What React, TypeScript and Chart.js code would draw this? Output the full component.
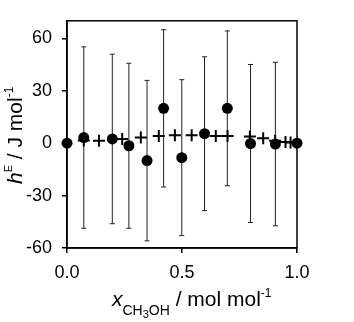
import { useEffect, useRef } from "react";
import { Chart, registerables } from "chart.js";

Chart.register(...registerables);

// measured data points (filled circles) with symmetric error bars
const circleX = [0, 0.073, 0.197, 0.269, 0.348, 0.42, 0.499, 0.598, 0.697, 0.798, 0.906, 1.0];
const circleY = [0, 3.2, 2.4, -1.5, -10, 19.9, -8.3, 5.4, 19.9, -0.2, -0.5, 0];
const circleErr = [0, 51.9, 48.5, 47.2, 45.9, 45.0, 44.6, 44.0, 44.3, 45.2, 46.8, 0];

// second series (plus markers)
const plusX = [0.073, 0.139, 0.24, 0.321, 0.399, 0.469, 0.542, 0.647, 0.698, 0.795, 0.853, 0.905, 0.95, 0.972];
const plusY = [1.5, 1.3, 2.3, 3.2, 4.1, 4.5, 4.5, 4.1, 4.1, 3.8, 2.8, 1.3, 0.7, 0.4];

const yTickValues = [-60, -30, 0, 30, 60];
const xTickValues = [0, 0.5, 1.0];

const FONT = "'Liberation Sans', Arial, sans-serif";
const TICK_SIZE = 18;
const TITLE_SIZE = 21;

type Run = { text: string; size: number; italic?: boolean; dy: number };

function drawRuns(ctx: CanvasRenderingContext2D, runs: Run[]) {
  let x = 0;
  for (const r of runs) {
    ctx.font = `${r.italic ? "italic " : ""}${r.size}px ${FONT}`;
    ctx.fillText(r.text, x, r.dy);
    x += ctx.measureText(r.text).width;
  }
}

const decorPlugin = {
  id: "decor",
  beforeDatasetsDraw(chart: any) {
    const ctx: CanvasRenderingContext2D = chart.ctx;
    const { left, right, top, bottom } = chart.chartArea;
    const xs = chart.scales.x;
    const ys = chart.scales.y;
    ctx.save();
    // frame
    ctx.strokeStyle = "#000";
    ctx.lineWidth = 1.5;
    ctx.strokeRect(left, top, right - left, bottom - top);
    // error bars
    ctx.lineWidth = 1;
    ctx.strokeStyle = "#222";
    for (let i = 0; i < circleX.length; i++) {
      const e = circleErr[i];
      if (!e) continue;
      const px = xs.getPixelForValue(circleX[i]);
      const y1 = ys.getPixelForValue(circleY[i] + e);
      const y2 = ys.getPixelForValue(circleY[i] - e);
      ctx.beginPath();
      ctx.moveTo(px, y1);
      ctx.lineTo(px, y2);
      ctx.moveTo(px - 2.5, y1);
      ctx.lineTo(px + 2.5, y1);
      ctx.moveTo(px - 2.5, y2);
      ctx.lineTo(px + 2.5, y2);
      ctx.stroke();
    }
    ctx.restore();
  },
  afterDraw(chart: any) {
    const ctx: CanvasRenderingContext2D = chart.ctx;
    ctx.save();
    ctx.fillStyle = "#000";
    ctx.textBaseline = "alphabetic";
    ctx.textAlign = "left";
    // x title
    ctx.save();
    ctx.translate(112, 306);
    drawRuns(ctx, [
      { text: "x", size: TITLE_SIZE, italic: true, dy: 0 },
      { text: "CH", size: 14, dy: 9 },
      { text: "3", size: 11, dy: 12 },
      { text: "OH", size: 14, dy: 9 },
      { text: " / mol mol", size: TITLE_SIZE, dy: 0 },
      { text: "-1", size: 12, dy: -9 },
    ]);
    ctx.restore();
    // y title
    ctx.save();
    ctx.translate(22, 184);
    ctx.rotate(-Math.PI / 2);
    drawRuns(ctx, [
      { text: "h", size: TITLE_SIZE, italic: true, dy: 0 },
      { text: "E", size: 11, dy: -10 },
      { text: " / J mol", size: TITLE_SIZE, dy: 0 },
      { text: "-1", size: 12, dy: -9 },
    ]);
    ctx.restore();
    ctx.restore();
  },
};

export default function App() {
  const ref = useRef<HTMLCanvasElement | null>(null);
  useEffect(() => {
    document.body.style.margin = "0";
    const canvas = ref.current;
    if (!canvas) return;
    const chart = new Chart(canvas, {
      type: "scatter",
      data: {
        datasets: [
          {
            label: "plus",
            data: plusX.map((x, i) => ({ x, y: plusY[i] })),
            pointStyle: "cross",
            radius: 6,
            borderWidth: 2,
            borderColor: "#000",
            backgroundColor: "#000",
            clip: false,
          } as any,
          {
            label: "circles",
            data: circleX.map((x, i) => ({ x, y: circleY[i] })),
            pointStyle: "circle",
            radius: 5.5,
            borderWidth: 0,
            borderColor: "#000",
            backgroundColor: "#000",
            clip: false,
          } as any,
        ],
      },
      options: {
        animation: false,
        responsive: false,
        devicePixelRatio: 1,
        layout: { padding: { left: 0, top: 18, right: 57, bottom: 0 } },
        plugins: { legend: { display: false }, tooltip: { enabled: false } },
        events: [],
        scales: {
          x: {
            type: "linear",
            min: 0,
            max: 1,
            afterBuildTicks: (s: any) => {
              s.ticks = xTickValues.map((v) => ({ value: v }));
            },
            afterFit: (s: any) => {
              s.height = 74;
            },
            ticks: {
              color: "#000",
              font: { family: FONT, size: TICK_SIZE },
              padding: 9,
              maxRotation: 0,
              callback: (v: any) => Number(v).toFixed(1),
            },
            grid: { drawOnChartArea: false, drawTicks: true, tickLength: 5, color: "#000", lineWidth: 1.5 },
            border: { display: true, color: "#000", width: 1.5 },
          },
          y: {
            type: "linear",
            min: -60,
            max: 70,
            afterBuildTicks: (s: any) => {
              s.ticks = yTickValues.map((v) => ({ value: v }));
            },
            afterFit: (s: any) => {
              s.width = 67;
            },
            ticks: {
              color: "#000",
              font: { family: FONT, size: TICK_SIZE },
              padding: 10,
              callback: (v: any) => String(v),
            },
            grid: { drawOnChartArea: false, drawTicks: true, tickLength: 5, color: "#000", lineWidth: 1.5 },
            border: { display: true, color: "#000", width: 1.5 },
          },
        },
      },
      plugins: [decorPlugin],
    } as any);
    return () => chart.destroy();
  }, []);
  return <canvas ref={ref} width={354} height={322} style={{ display: "block" }} />;
}
